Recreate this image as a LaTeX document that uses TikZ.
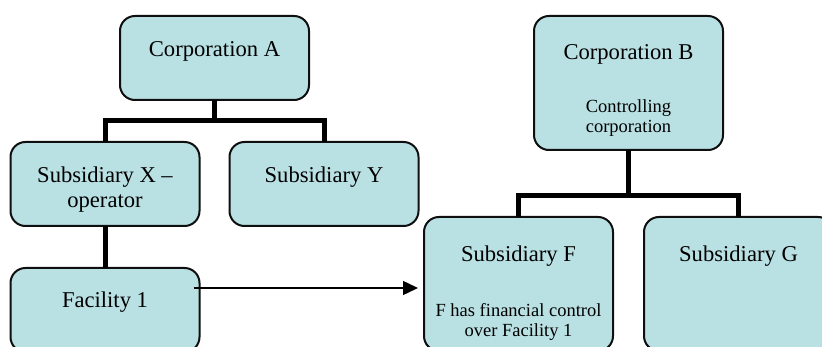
\documentclass[tikz,border=0pt]{standalone}
\usepackage{fontspec}
\setmainfont{Liberation Serif}
\usetikzlibrary{arrows.meta,calc}
\definecolor{boxfill}{RGB}{185,224,227}
\definecolor{boxline}{RGB}{15,15,15}
\tikzset{
  orgbox/.style={draw=boxline, line width=2pt, fill=boxfill, rounded corners=15pt,
    minimum width=189pt, inner sep=0pt, outer sep=0pt, anchor=north},
  smallbox/.style={orgbox, minimum height=84pt},
  tallbox/.style={orgbox, minimum height=134pt},
  maintext/.style={font=\fontsize{22.6}{25}\selectfont, inner sep=0pt, anchor=base, align=center},
  subtext/.style={font=\fontsize{18.5}{20.5}\selectfont, inner sep=0pt, anchor=base, align=center},
  bus/.style={line width=5pt, draw=black},
  link/.style={line width=1.5pt, draw=black, -{Triangle[length=15pt,width=14pt]}}
}
\begin{document}
\begin{tikzpicture}[x=1pt,y=1pt]
\useasboundingbox (0,0) rectangle (822,-347);
\clip (0,0) rectangle (822,-347);
% boxes (positions given by top centre)
\node[smallbox] (A) at (214.5,-16) {};
\node[smallbox] (X) at (105,-142) {};
\node[smallbox] (Y) at (324,-142) {};
\node[smallbox] (F1) at (105,-268) {};
\node[tallbox] (B) at (628.5,-16) {};
\node[tallbox] (SF) at (518.5,-217) {};
\node[tallbox] (SG) at (738.5,-217) {};
% texts (multi-line nodes: base anchor is the last line's baseline)
\node[maintext] (tA) at ($(A.north)+(0,-40.5)$) {Corporation A};
\node[maintext] (tX) at ($(X.north)+(0,-66)$) {Subsidiary X –\\operator};
\node[maintext] (tY) at ($(Y.north)+(0,-41)$) {Subsidiary Y};
\node[maintext] (tF1) at ($(F1.north)+(0,-40)$) {Facility 1};
\node[maintext] (tB) at ($(B.north)+(0,-44)$) {Corporation B};
\node[subtext] (tB2) at ($(B.north)+(0,-117)$) {Controlling\\corporation};
\node[maintext] (tSF) at ($(SF.north)+(0,-45)$) {Subsidiary F};
\node[subtext] (tSF2) at ($(SF.north)+(0,-120)$) {F has financial control\\over Facility 1};
\node[maintext] (tSG) at ($(SG.north)+(0,-45)$) {Subsidiary G};
% connectors
\coordinate (busA) at ($(A.south)+(0,-21)$);
\coordinate (busB) at ($(B.south)+(0,-46)$);
\draw[bus] (A.south) -- (busA);
\draw[bus] (X.north) |- (busA) -| (Y.north);
\draw[bus] (X.south) -- (F1.north);
\draw[bus] (B.south) -- (busB);
\draw[bus] (SF.north) |- (busB) -| (SG.north);
\coordinate (arrowy) at (0,-288);
\draw[link] ([xshift=-6pt]F1.east |- arrowy) -- ([xshift=-6pt]SF.west |- arrowy);
\end{tikzpicture}
\end{document}
